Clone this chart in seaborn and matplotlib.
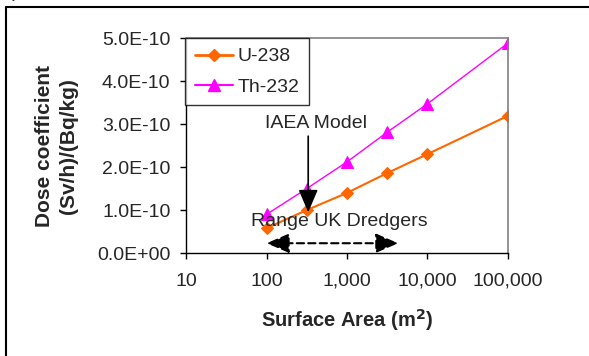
import numpy as np
import pandas as pd
import matplotlib
matplotlib.use("Agg")
import matplotlib.pyplot as plt
import seaborn as sns
from matplotlib.lines import Line2D

# Data
areas = [100, 316, 1000, 3162, 10000, 100000]
u238 = [0.58e-10, 1.00e-10, 1.40e-10, 1.86e-10, 2.30e-10, 3.19e-10]
th232 = [0.90e-10, 1.50e-10, 2.12e-10, 2.81e-10, 3.47e-10, 4.88e-10]
series_names = ["U-238", "Th-232"]
xtick_vals = [10, 100, 1000, 10000, 100000]
xtick_labels = ["10", "100", "1,000", "10,000", "100,000"]
ytick_vals = [0, 1e-10, 2e-10, 3e-10, 4e-10, 5e-10]
ytick_labels = ["0.0E+00", "1.0E-10", "2.0E-10", "3.0E-10", "4.0E-10", "5.0E-10"]

df = pd.DataFrame({
    "area": areas * 2,
    "dose": u238 + th232,
    "series": [series_names[0]] * len(areas) + [series_names[1]] * len(areas),
})

sns.set_style("white")
plt.rcParams["font.family"] = ["Liberation Sans", "DejaVu Sans"]

fig = plt.figure(figsize=(5.89, 3.56), dpi=100)
ax = fig.add_axes([0.316, 0.289, 0.862 - 0.316, 0.893 - 0.289])

colors = {"U-238": "#FF6600", "Th-232": "#FF00FF"}
markers = {"U-238": "D", "Th-232": "^"}
lws = {"U-238": 1.5, "Th-232": 1.0}
msz = {"U-238": 6.5, "Th-232": 8}
for name in series_names:
    sub = df[df["series"] == name]
    sns.lineplot(data=sub, x="area", y="dose", ax=ax, color=colors[name],
                 marker=markers[name], markersize=msz[name], linewidth=lws[name],
                 markeredgecolor=colors[name], label=name, legend=False)

ax.set_xscale("log")
ax.set_xlim(10, 100000)
ax.set_ylim(0, 5e-10)
ax.set_xticks(xtick_vals)
ax.set_xticklabels(xtick_labels)
ax.xaxis.set_minor_locator(matplotlib.ticker.NullLocator())
ax.set_yticks(ytick_vals)
ax.set_yticklabels(ytick_labels)
ax.tick_params(axis="both", labelsize=14, length=4.3, width=1, color="black",
               direction="out", bottom=True, left=True)
ax.tick_params(axis="x", pad=10)
ax.tick_params(axis="y", pad=7)

for s in ["top", "right"]:
    ax.spines[s].set_color("#808080")
    ax.spines[s].set_linewidth(1.2)
for s in ["left", "bottom"]:
    ax.spines[s].set_color("black")
    ax.spines[s].set_linewidth(1.0)

ax.set_xlabel("Surface Area (m$^\\mathbf{2}$)", fontsize=14.5, fontweight="bold", labelpad=12)
ax.set_ylabel("Dose coefficient\n(Sv/h)/(Bq/kg)", fontsize=15, fontweight="bold", labelpad=14,
              linespacing=1.3)

handles = [Line2D([], [], color=colors[n], marker=markers[n], markersize=msz[n],
                  linewidth=lws[n] + 0.5, markeredgecolor=colors[n]) for n in series_names]
leg = ax.legend(handles, series_names, loc="upper left", bbox_to_anchor=(-0.003, 1.0),
                fontsize=14, frameon=True, fancybox=False, edgecolor="black",
                handlelength=1.95, borderpad=0.5, labelspacing=0.65, handletextpad=0.25,
                borderaxespad=0)
leg.get_frame().set_linewidth(1.0)

# Annotations
ax.annotate("", xy=(330, 0.95e-10), xytext=(330, 2.72e-10),
            arrowprops=dict(arrowstyle="-|>,head_length=1.4,head_width=0.6",
                            color="black", lw=1.2, shrinkA=0, shrinkB=0))
ax.text(417, 3.02e-10, "IAEA Model", fontsize=14, ha="center", va="center")
ax.text(800, 0.74e-10, "Range UK Dredgers", fontsize=14, ha="center", va="center")
ax.annotate("", xy=(100, 0.23e-10), xytext=(4365, 0.23e-10),
            arrowprops=dict(arrowstyle="<|-|>,head_length=1.4,head_width=0.6",
                            color="black", lw=1.5, linestyle=(0, (3.5, 2)),
                            shrinkA=0, shrinkB=0))

# Outer frame lines and cut-off panel title
fig.add_artist(Line2D([6 / 589, 1.0], [1 - 7 / 356, 1 - 7 / 356], color="black", lw=1.5,
                      transform=fig.transFigure))
fig.add_artist(Line2D([6 / 589, 6 / 589], [0, 1 - 7 / 356], color="black", lw=1.5,
                      transform=fig.transFigure))
fig.text(0.005, 1.02, "a) Surface area", fontsize=14, fontstyle="italic", ha="left", va="center")

fig.savefig("out.png", dpi=100)
